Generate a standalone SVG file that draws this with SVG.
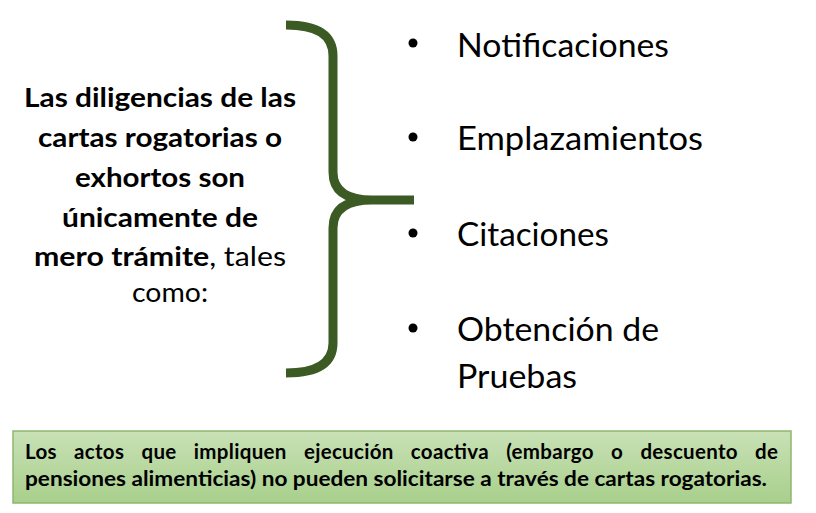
<svg xmlns="http://www.w3.org/2000/svg" width="816" height="513" viewBox="0 0 816 513">
  <defs>
    <style>
      .lead { font-family: Lato, "Open Sans", "Liberation Sans", sans-serif; font-size: 27px; fill: #000; text-anchor: middle; font-weight: 700; }
      .reg { font-weight: 400; }
      .item { font-family: Lato, "Open Sans", "Liberation Sans", sans-serif; font-size: 32px; fill: #000; }
      .note { font-family: Lato, "Open Sans", "Liberation Sans", sans-serif; font-size: 20.5px; font-weight: 700; fill: #000; }
      .just { word-spacing: 12px; }
      .bullet { fill: #000; }
      .brace { fill: none; stroke: #3b5a24; stroke-width: 9; stroke-linecap: butt; stroke-linejoin: round; }
    </style>
    <linearGradient id="noteFill" x1="0" y1="0" x2="0" y2="1">
      <stop offset="0" stop-color="#c8e1b6"/>
      <stop offset="1" stop-color="#a8cf8b"/>
    </linearGradient>
  </defs>
  <rect width="816" height="513" fill="#ffffff"/>

  <g id="lead-text">
    <text class="lead" x="160" y="107" textLength="272" lengthAdjust="spacingAndGlyphs">Las diligencias de las</text>
    <text class="lead" x="160" y="147" textLength="244" lengthAdjust="spacingAndGlyphs">cartas rogatorias o</text>
    <text class="lead" x="160" y="187" textLength="170" lengthAdjust="spacingAndGlyphs">exhortos son</text>
    <text class="lead" x="160" y="227" textLength="196" lengthAdjust="spacingAndGlyphs">únicamente de</text>
    <text class="lead" x="160" y="266" textLength="252" lengthAdjust="spacingAndGlyphs">mero trámite<tspan class="reg">, tales</tspan></text>
    <text class="lead reg" x="170" y="302" textLength="76" lengthAdjust="spacingAndGlyphs">como:</text>
  </g>

  <g id="connectors">
    <path class="brace" d="M286,25 C316,25 333,34 333,56 L333,172 C333,190 345,200 372,200 L414,200 M372,200 C345,200 333,210 333,228 L333,343 C333,364 316,373 286,373"/>
  </g>

  <g id="item-notificaciones">
    <circle class="bullet" cx="413" cy="43" r="4.5"/>
    <text class="item" x="457" y="57" textLength="212" lengthAdjust="spacingAndGlyphs">Notificaciones</text>
  </g>
  <g id="item-emplazamientos">
    <circle class="bullet" cx="413" cy="137" r="4.5"/>
    <text class="item" x="457" y="150" textLength="246" lengthAdjust="spacingAndGlyphs">Emplazamientos</text>
  </g>
  <g id="item-citaciones">
    <circle class="bullet" cx="413" cy="233" r="4.5"/>
    <text class="item" x="457" y="246" textLength="152" lengthAdjust="spacingAndGlyphs">Citaciones</text>
  </g>
  <g id="item-obtencion">
    <circle class="bullet" cx="413" cy="328" r="4.5"/>
    <text class="item" x="457" y="341" textLength="202" lengthAdjust="spacingAndGlyphs">Obtención de</text>
    <text class="item" x="457" y="388" textLength="120" lengthAdjust="spacingAndGlyphs">Pruebas</text>
  </g>

  <g id="note">
    <rect x="13" y="431" width="778" height="72" fill="url(#noteFill)" stroke="#8fb670" stroke-width="1.5"/>
    <text class="note just" x="25" y="459" textLength="753" lengthAdjust="spacing">Los actos que impliquen ejecución coactiva (embargo o descuento de</text>
    <text class="note" x="25" y="486" textLength="742" lengthAdjust="spacingAndGlyphs">pensiones alimenticias) no pueden solicitarse a través de cartas rogatorias.</text>
  </g>
</svg>
